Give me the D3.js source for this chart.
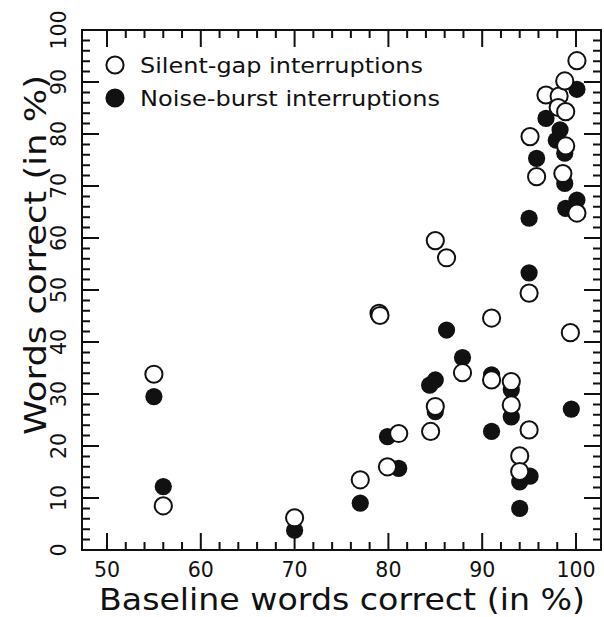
<!DOCTYPE html>
<html>
<head>
<meta charset="utf-8">
<script src="https://cdn.jsdelivr.net/npm/d3@7"></script>
<style>
  body { margin: 0; background: #fff; }
  text { font-family: "DejaVu Sans", "Liberation Sans", sans-serif; fill: #111; }
</style>
</head>
<body>
<svg id="chart" width="604" height="617"></svg>
<script>
// baseline vs. interrupted scores, one point per listener
const silentBase = [55, 56, 70, 77, 79, 79.1, 79.9, 81.1, 84.5, 85, 85, 86.2, 87.9, 91, 91, 93.1, 93.1, 94, 94, 95, 95, 95.1, 95.8, 96.8, 98.2, 98.1, 98.9, 98.8, 98.9, 98.6, 99.4, 100.1, 100.1];
const silentScore = [33.8, 8.5, 6.2, 13.5, 45.5, 45.1, 16.0, 22.4, 22.8, 27.6, 59.5, 56.2, 34.1, 44.6, 32.7, 32.4, 27.9, 18.1, 15.1, 23.1, 49.4, 79.5, 71.8, 87.5, 87.3, 85.1, 84.3, 90.2, 77.7, 72.4, 41.8, 94.1, 64.8];

const noiseBase = [55, 56, 70, 77, 79.9, 81.1, 84.4, 85, 85, 86.2, 87.9, 91, 91, 93.1, 93.1, 94, 94, 95.1, 95, 95, 95.8, 96.8, 98.3, 97.9, 98.8, 98.8, 98.9, 99.5, 100.1, 100.1];
const noiseScore = [29.5, 12.2, 3.8, 9, 21.8, 15.7, 31.7, 32.7, 26.6, 42.3, 37.0, 33.7, 22.8, 30.8, 25.6, 13.1, 8.0, 14.2, 53.3, 63.8, 75.3, 83.0, 80.8, 78.8, 76.3, 70.5, 65.7, 27.1, 88.6, 67.3];

const xTicks = [50, 60, 70, 80, 90, 100];
const yTicks = [0, 10, 20, 30, 40, 50, 60, 70, 80, 90, 100];
const xMinor = [50, 52, 54, 56, 58, 60, 62, 64, 66, 68, 70, 72, 74, 76, 78, 80, 82, 84, 86, 88, 90, 92, 94, 96, 98, 100];
const yMinor = [0, 2, 4, 6, 8, 10, 12, 14, 16, 18, 20, 22, 24, 26, 28, 30, 32, 34, 36, 38, 40, 42, 44, 46, 48, 50,
  52, 54, 56, 58, 60, 62, 64, 66, 68, 70, 72, 74, 76, 78, 80, 82, 84, 86, 88, 90, 92, 94, 96, 98, 100];
const legendLabels = ["Silent-gap interruptions", "Noise-burst interruptions"];

const svg = d3.select('#chart');
const pl = 82, pr = 601, pt = 30, pb = 550;
const r = 8.6, sw = 2;

let x = d3.scaleLinear().domain([50, 100]).range([107, 576]);
let y = d3.scaleLinear().domain([0, 100]).range([pb, pt]);

// inward ticks on all four sides (minor every 2, major every 10), one path
const tlen = v => (v % 10 === 0 ? 17 : 8);
const p = d3.path();
xMinor.forEach(v => {
  p.moveTo(x(v), pb); p.lineTo(x(v), pb - tlen(v));
  p.moveTo(x(v), pt); p.lineTo(x(v), pt + tlen(v));
});
yMinor.forEach(v => {
  p.moveTo(pl, y(v)); p.lineTo(pl + tlen(v), y(v));
  p.moveTo(pr, y(v)); p.lineTo(pr - tlen(v), y(v));
});
// frame
p.rect(pl, pt, pr - pl, pb - pt);

svg.append('path')
  .attr('d', p.toString())
  .attr('fill', 'none')
  .attr('stroke', '#111')
  .attr('stroke-width', sw);

// tick labels
svg.append('g').selectAll('text').data(xTicks).join('text')
  .attr('x', d => x(d)).attr('y', 577)
  .attr('text-anchor', 'middle')
  .style('font-size', '20.5px')
  .text(d => d);

svg.append('g').selectAll('text').data(yTicks).join('text')
  .attr('transform', d => `translate(66, ${y(d)}) rotate(-90)`)
  .attr('text-anchor', 'middle')
  .style('font-size', '20.5px')
  .text(d => d);

// axis titles
svg.append('text')
  .attr('x', 342).attr('y', 610)
  .attr('text-anchor', 'middle')
  .attr('textLength', 486).attr('lengthAdjust', 'spacingAndGlyphs')
  .style('font-size', '30px')
  .text('Baseline words correct (in %)');

svg.append('text')
  .attr('transform', `translate(46, 255) rotate(-90)`)
  .attr('text-anchor', 'middle')
  .attr('textLength', 360).attr('lengthAdjust', 'spacingAndGlyphs')
  .style('font-size', '30px')
  .text('Words correct (in %)');

// points: filled first, open drawn over them
svg.append('g').selectAll('circle').data(d3.zip(noiseBase, noiseScore)).join('circle')
  .attr('cx', d => x(d[0])).attr('cy', d => y(d[1]))
  .attr('r', r).attr('fill', '#111');

svg.append('g').selectAll('circle').data(d3.zip(silentBase, silentScore)).join('circle')
  .attr('cx', d => x(d[0])).attr('cy', d => y(d[1]))
  .attr('r', r).attr('fill', '#fff').attr('stroke', '#111').attr('stroke-width', sw);

// legend
const lg = svg.append('g').selectAll('g').data(legendLabels).join('g')
  .attr('transform', (d, i) => `translate(115, ${65 + i * 33})`);
lg.append('circle')
  .attr('r', r)
  .attr('fill', (d, i) => i ? '#111' : '#fff')
  .attr('stroke', '#111').attr('stroke-width', sw);
lg.append('text')
  .attr('x', 25).attr('dy', '0.36em')
  .attr('textLength', (d, i) => i ? 300 : 283)
  .attr('lengthAdjust', 'spacingAndGlyphs')
  .style('font-size', '22px')
  .text(d => d);
</script>
</body>
</html>
